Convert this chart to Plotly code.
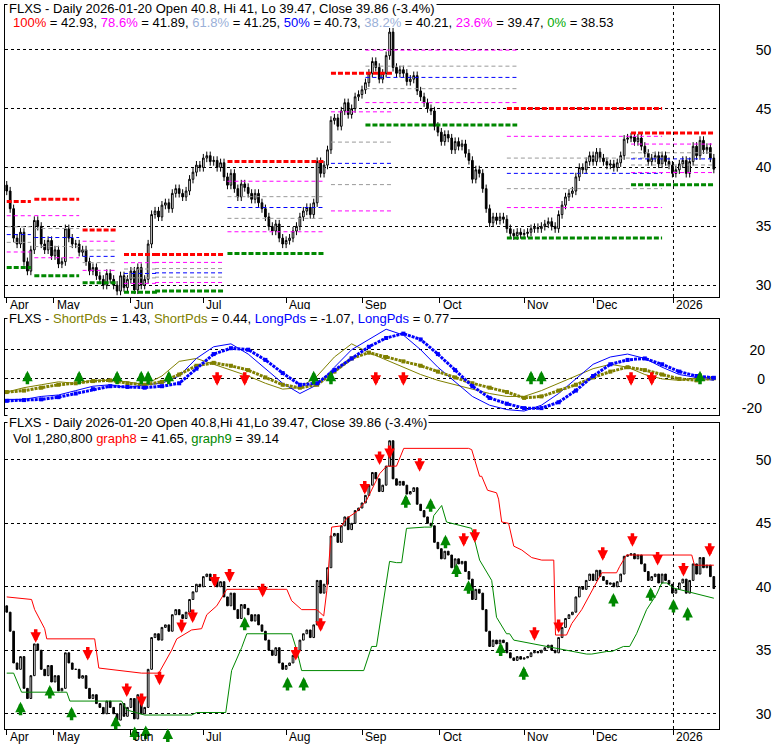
import plotly.graph_objects as go

FONT = "Liberation Sans, Arial, sans-serif"

closes = [
 38.0,36.5,34.0,33.5,34.5,32.0,31.2,33.0,35.5,35.0,
 33.5,33.0,33.8,32.5,33.0,31.8,32.0,34.8,34.0,33.5,
 33.5,32.8,33.0,32.0,31.2,31.5,30.8,30.5,30.0,31.0,
 30.5,30.0,29.5,30.8,29.8,30.5,31.2,29.6,31.5,30.0,
 30.5,33.5,36.0,36.3,35.8,36.8,37.0,36.5,37.8,38.2,
 37.8,37.5,38.0,39.0,39.6,40.2,40.0,40.8,41.0,40.5,
 40.6,40.0,40.4,39.2,38.5,39.5,38.2,37.5,38.6,38.3,
 37.8,37.3,37.8,37.0,36.5,35.8,35.0,34.6,35.2,34.0,
 33.5,33.8,34.0,34.6,35.0,35.8,36.3,36.6,36.0,37.0,
 40.5,39.5,40.2,41.5,44.0,44.2,43.5,44.8,45.5,44.5,
 45.0,46.0,46.2,46.6,47.2,48.0,49.0,48.5,47.5,48.0,
 49.5,51.5,48.5,48.0,48.3,48.0,47.3,47.5,47.8,46.5,
 46.0,45.5,45.0,44.8,43.5,43.0,42.2,42.8,42.5,41.5,
 42.2,41.8,42.0,41.2,40.6,39.0,39.8,39.5,38.2,36.5,
 35.3,35.8,35.5,35.8,35.6,34.8,34.4,34.2,34.5,34.3,
 34.4,34.5,34.8,34.9,34.8,35.0,35.2,35.4,35.0,34.8,
 36.0,36.8,37.5,37.8,38.0,39.2,40.0,39.8,40.5,41.0,
 40.5,41.3,40.8,40.5,40.2,40.3,40.0,40.4,41.0,42.4,
 42.5,42.6,42.2,42.5,41.8,41.2,40.5,40.8,41.0,40.3,
 41.0,40.5,40.2,39.5,39.8,40.3,40.6,39.5,40.5,41.8,
 41.0,42.3,41.5,41.7,40.8,39.86]
first_open = 38.5
wick = 0.35

month_idx = [0, 13.6, 36, 57, 81, 103, 125.5, 150, 170, 193.3]
month_lbl = ["Apr","May","Jun","Jul","Aug","Sep","Oct","Nov","Dec","2026"]

fib_start = [0, 8, 22, 34, 43, 64, 94, 104, 145, 181]
fib_end   = [7, 21, 32, 44, 63, 92, 112, 148, 190, 205]
fib_hi    = [37.1, 37.3, 34.7, 32.6, 32.6, 40.5, 48.0, 51.7, 45.0, 42.93]
fib_lo    = [31.5, 30.8, 30.2, 29.4, 29.5, 32.7, 32.7, 43.6, 34.0, 38.53]
fib_show_hi = [1,1,1,1,1,1,1,0,1,1]
fib_show_lo = [1,1,1,1,1,1,0,1,1,1]

osc_x = list(range(0, 206, 5))
long_thick = [-15,-14.5,-14,-12.5,-10,-7,-5,-5.5,-6,-5, -3,7,17,21,20,13,4,-4,-3,6,
              14,22,28,31,27,17,6,-5,-13,-17, -20,-20,-16,-8,2,10,13,14,10,5, 2,0.77]
long_thin = [-14,-14,-12,-11,-8,-5,-4,-6,-4,-3, 2,14,22,24,17,7,-3,-10,-4,8,
             20,27,34,30,20,8,-2,-12,-18,-21, -22,-18,-10,0,10,15,17,14,8,3, 1,-1.07]
short_thick = [-9,-8,-6,-4,-3,-1.5,-1,-3,-4,-2, 3,9,11,9,6,1,-4,-6,-4,5,
               14,18,15,12,9,5,1,-3,-6,-9, -13,-12,-8,-4,1,5,8,6,3,0, -1,0.44]
short_thin = [-9,-6,-4,-2,-3,-1,-1,-2,-4,2, 12,14,10,6,2,-3,-7,-6,2,15,
              24,18,13,8,3,-1,-4,-7,-10,-12, -12,-8,-3,2,7,10,8,3,0,-1, 0.5,1.43]
osc_buy = [6, 21, 32, 39, 41, 47, 89, 94, 152, 155, 201]
osc_sell = [61, 69, 107, 115, 181, 187]
osc_arrow_level = 0.5

g8_x = [0,7.2,8.1,11,11.6,25.5,26.7,39.1,44.1,47.8,49.3,53.6,56.5,58,60.9,63.8,81.2,82.6,85.5,89.9,
        91.9,92.8,94.2,97.1,98.6,101.4,104.3,108.1,110.1,113,115.1,133.9,134.8,137.1,137.7,139.4,142,142.6,143.5,145.5,
        147,149.3,152.2,155.1,158.6,158.8,159.1,162.3,163.8,166.7,169.6,172.5,176.8,177.7,179.7,198.6,199.4,205]
g8_y = [39.2,39.0,38.2,36.7,35.9,35.9,33.6,33.2,33.2,35.0,35.9,36.6,36.7,37.8,38.5,39.8,39.8,38.9,38.2,38.2,
        37.7,39.7,44.7,44.8,45.4,45.9,46.8,48.9,49.5,49.5,50.9,50.9,50.8,48.7,48.7,47.6,47.4,46.9,45.1,45.0,
        43.2,42.9,42.3,42.1,42.1,39.9,36.2,36.2,37.1,38.2,39.7,41.1,41.1,41.6,42.5,42.5,41.7,41.7]
g9_x = [0,2,4.3,17.4,18.3,33.3,34.8,40,53.6,55.1,63.5,65.2,68.1,69.6,82.6,84.1,85.5,103.5,105.8,107.2,
        111,113,114.5,115.9,121.2,123.2,123.8,126.1,127.5,134.8,137.1,140.6,142,144.9,145.8,147,168.1,169.6,173.9,175.4,
        178.8,180.6,182.6,185.5,188.4,189.9,191.3,193.3,205]
g9_y = [33.2,33.2,31.7,31.7,31.0,31.0,30.3,29.9,29.9,30.1,30.1,33.4,35.2,36.3,36.3,35.0,33.4,33.4,35.3,35.3,
        42.0,41.9,41.9,44.6,44.7,44.7,45.6,46.4,45.1,44.6,42.1,40.5,37.6,36.3,36.3,35.8,34.7,34.7,34.9,34.9,
        35.3,35.3,36.3,38.2,39.4,40.3,40.3,39.9,39.1]

buy_x = [4,12.5,18.8,31.6,37.1,40.3,46.7,69,81.4,86.1,115.7,122.9,127.2,130.4,133.9,143.2,149.9,175.9,186.7,193.3,197.4]
buy_y = [30.35,31.67,29.96,29.26,28.4,28.48,28.25,37.04,32.3,32.3,46.69,46.38,43.5,41.25,39.92,35.02,33.15,38.91,39.38,38.44,37.82]
sell_x = [8.4,23.5,34.8,39.1,44.3,50.7,53.9,60.3,64.6,74.2,83.8,91,103.8,108.1,111,119.7,132.5,135.7,153,160,172.8,181.4,188.7,196.2,203.8]
sell_y = [36.19,34.79,31.91,31.13,32.84,36.96,37.74,40.54,40.93,39.77,34.79,37.04,47.86,50.19,50.66,49.65,43.74,44.05,36.34,36.96,42.65,43.74,42.26,41.4,42.96]

n = len(closes)
idx = list(range(n))
opens = [first_open] + closes[:-1]
highs = [max(o, c) + wick for o, c in zip(opens, closes)]
lows = [min(o, c) - wick for o, c in zip(opens, closes)]
bh = [max(o, c) for o, c in zip(opens, closes)]
bl = [min(o, c) for o, c in zip(opens, closes)]

W, H = 780, 745
M = dict(l=5, r=61, t=5, b=16)
PH = H - M["t"] - M["b"]
D1 = [0.5967, 1.0]
D2 = [0.4337, 0.5663]
D3 = [0.0, 0.4227]
R1 = [29.0, 53.8]
R2 = [-24.7, 41.0]
R3 = [28.8, 52.9]

fig = go.Figure()
candle_style = dict(increasing=dict(line=dict(color="black", width=1), fillcolor="white"),
                    decreasing=dict(line=dict(color="black", width=1), fillcolor="black"),
                    whiskerwidth=0, showlegend=False, hoverinfo="skip")

mid_levels = [(0.786, "#ff00ff"), (0.618, "#999999"), (0.5, "#0000ff"), (0.382, "#999999"), (0.236, "#ff00ff")]
for s, e, h, l, sh, sl in zip(fib_start, fib_end, fib_hi, fib_lo, fib_show_hi, fib_show_lo):
    for f, col in mid_levels:
        v = l + f * (h - l)
        fig.add_trace(go.Scatter(x=[s, e], y=[v, v], mode="lines", xaxis="x", yaxis="y",
                                 line=dict(color=col, width=1, dash="4px,3px"), showlegend=False, hoverinfo="skip"))
    if sh:
        fig.add_trace(go.Scatter(x=[s, e], y=[h, h], mode="lines", xaxis="x", yaxis="y",
                                 line=dict(color="#ff0000", width=3, dash="5px,2px"), showlegend=False, hoverinfo="skip"))
    if sl:
        fig.add_trace(go.Scatter(x=[s, e], y=[l, l], mode="lines", xaxis="x", yaxis="y",
                                 line=dict(color="#008800", width=3, dash="5px,2px"), showlegend=False, hoverinfo="skip"))

fig.add_trace(go.Candlestick(x=idx, open=opens, high=highs, low=lows, close=closes,
                             xaxis="x", yaxis="y", **candle_style))

fig.add_trace(go.Scatter(x=osc_x, y=short_thin, mode="lines", xaxis="x2", yaxis="y2",
                         line=dict(color="#808000", width=1), showlegend=False))
fig.add_trace(go.Scatter(x=osc_x, y=long_thin, mode="lines", xaxis="x2", yaxis="y2",
                         line=dict(color="#0000ff", width=1), showlegend=False))
fig.add_trace(go.Scatter(x=osc_x, y=short_thick, mode="lines+markers", xaxis="x2", yaxis="y2",
                         line=dict(color="#808000", width=3, dash="3px,1px"), marker=dict(symbol="square", size=4, color="#808000"), showlegend=False))
fig.add_trace(go.Scatter(x=osc_x, y=long_thick, mode="lines+markers", xaxis="x2", yaxis="y2",
                         line=dict(color="#0000ff", width=3, dash="3px,1px"), marker=dict(symbol="square", size=4, color="#0000ff"), showlegend=False))

fig.add_trace(go.Scatter(x=g8_x, y=g8_y, mode="lines", xaxis="x3", yaxis="y3",
                         line=dict(color="#ff0000", width=1), showlegend=False))
fig.add_trace(go.Scatter(x=g9_x, y=g9_y, mode="lines", xaxis="x3", yaxis="y3",
                         line=dict(color="#008800", width=1), showlegend=False))
fig.add_trace(go.Candlestick(x=idx, open=opens, high=bh, low=bl, close=closes,
                             xaxis="x3", yaxis="y3", **candle_style))

ALEN = 15
def add_arrows(xs, ys, up, xref, yref, dom, rng):
    ppu = (dom[1] - dom[0]) * PH / (rng[1] - rng[0])
    half = (ALEN / 2) / ppu
    for x, y in zip(xs, ys):
        tip = y + half if up else y - half
        fig.add_annotation(x=x, y=tip, xref=xref, yref=yref, text="", showarrow=True,
                           ax=0, ay=ALEN if up else -ALEN, arrowhead=2, arrowsize=0.6, arrowwidth=3.5,
                           arrowcolor="#008800" if up else "#ff0000", standoff=0, startstandoff=0)

add_arrows(osc_buy, [osc_arrow_level] * len(osc_buy), True, "x2", "y2", D2, R2)
add_arrows(osc_sell, [osc_arrow_level] * len(osc_sell), False, "x2", "y2", D2, R2)
add_arrows(buy_x, buy_y, True, "x3", "y3", D3, R3)
add_arrows(sell_x, sell_y, False, "x3", "y3", D3, R3)

xr = [-0.5, 206.5]
xcommon = dict(range=xr, showgrid=False, zeroline=False, rangeslider=dict(visible=False), automargin=False,
               showline=True, linecolor="black", mirror=True, fixedrange=True)
xticks = dict(tickvals=month_idx, ticktext=[""] * len(month_idx), ticks="outside", ticklen=5, tickcolor="black")
ycommon = dict(side="right", showgrid=True, gridcolor="black", griddash="dot", gridwidth=1, automargin=False,
               zeroline=False, showline=True, linecolor="black", mirror=True, ticks="",
               tickfont=dict(family=FONT, size=14, color="black"))

fig.update_layout(
    width=W, height=H, paper_bgcolor="white", plot_bgcolor="white",
    margin=M, showlegend=False,
    font=dict(family=FONT, size=13, color="black"),
    xaxis=dict(domain=[0, 1], anchor="y", **xcommon, **xticks),
    xaxis2=dict(domain=[0, 1], anchor="y2", matches="x", showticklabels=False, **xcommon),
    xaxis3=dict(domain=[0, 1], anchor="y3", matches="x", **xcommon, **xticks),
    yaxis=dict(domain=D1, range=R1, tickvals=[30, 35, 40, 45, 50], anchor="x", ticklabelstandoff=33, **ycommon),
    yaxis2=dict(domain=D2, range=R2, tickvals=[-20, 0, 20],
                ticktext=["-20", "\u2007\u20070", "\u200720"], anchor="x2", ticklabelstandoff=19, **ycommon),
    yaxis3=dict(domain=D3, range=R3, tickvals=[30, 35, 40, 45, 50], anchor="x3", ticklabelstandoff=33, **ycommon),
)

for xa, ya in (("x", "y"), ("x3", "y3")):
    fig.add_shape(type="line", xref=xa, yref=ya + " domain", x0=193.3, x1=193.3, y0=0, y1=1,
                  line=dict(color="black", width=1, dash="dot"))

for ypos in (D1[0], 0.0):
    for m, t in zip(month_idx, month_lbl):
        fig.add_annotation(x=m, y=ypos, xref="x", yref="paper", text=t, showarrow=False,
                           xanchor="left", yanchor="top", xshift=1, yshift=1,
                           font=dict(family=FONT, size=12, color="black"))

def span(t, c):
    return f"<span style='color:{c}'>{t}</span>"

hdr = "FLXS - Daily 2026-01-20 Open 40.8, Hi 41, Lo 39.47, Close 39.86 (-3.4%)"
fig.add_annotation(x=0, y=1.0, xref="paper", yref="paper", text=hdr, showarrow=False, xanchor="left",
                   yanchor="middle", bgcolor="white", xshift=2, yshift=-3, font=dict(family=FONT, size=13))
fib_txt = (span("100%", "#ff0000") + " = 42.93, " + span("78.6%", "#ff00ff") + " = 41.89, " +
           span("61.8%", "#9ab0d8") + " = 41.25, " + span("50%", "#0000ff") + " = 40.73, " +
           span("38.2%", "#9ab0d8") + " = 40.21, " + span("23.6%", "#ff00ff") + " = 39.47, " +
           span("0%", "#00aa00") + " = 38.53")
fig.add_annotation(x=0, y=0.979, xref="paper", yref="paper", text=fib_txt, showarrow=False, xanchor="left",
                   yanchor="middle", xshift=6, yshift=-2, font=dict(family=FONT, size=13))
osc_txt = ("FLXS - " + span("ShortPds", "#808000") + " = 1.43, " + span("ShortPds", "#808000") + " = 0.44, " +
           span("LongPds", "#0000ff") + " = -1.07, " + span("LongPds", "#0000ff") + " = 0.77")
fig.add_annotation(x=0, y=D2[1], xref="paper", yref="paper", text=osc_txt, showarrow=False, xanchor="left",
                   yanchor="middle", bgcolor="white", xshift=2, font=dict(family=FONT, size=13))
hdr3 = "FLXS - Daily 2026-01-20 Open 40.8,Hi 41,Lo 39.47, Close 39.86 (-3.4%)"
fig.add_annotation(x=0, y=D3[1], xref="paper", yref="paper", text=hdr3, showarrow=False, xanchor="left",
                   yanchor="middle", bgcolor="white", xshift=2, font=dict(family=FONT, size=13))
vol_txt = "Vol 1,280,800 " + span("graph8", "#ff0000") + " = 41.65, " + span("graph9", "#008800") + " = 39.14"
fig.add_annotation(x=0, y=D3[1] - 0.021, xref="paper", yref="paper", text=vol_txt, showarrow=False, xanchor="left",
                   yanchor="middle", xshift=6, font=dict(family=FONT, size=13))

fig.write_html("out.html", config={"displayModeBar": False},
               post_script="document.body.style.margin='0px';document.body.style.overflow='hidden';")
